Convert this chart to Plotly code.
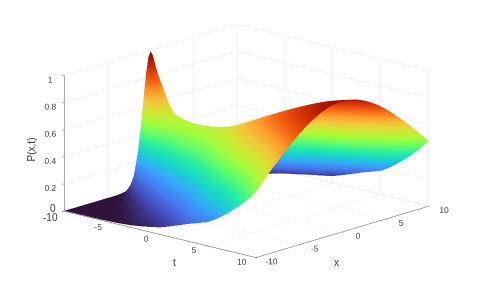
import numpy as np
import plotly.graph_objects as go

t_values = [-10, -9.5, -9, -8.5, -8, -7, -6, -5, -4, -3, -2, -1, 0, 1, 2, 3, 4, 5, 6, 7, 8, 9, 10]
x_half = [0, 0.25, 0.5, 0.75, 1, 1.25, 1.5, 2, 2.5, 3, 4, 5, 6, 7, 8, 9, 10]
# P(x,t), for x >= 0 (the surface is symmetric in x)
p_rows = [
    [.99, .954, .855, .711, .550, .395, .264, .094, .025, .005, 0, 0, 0, 0, 0, 0, 0],
    [.85, .832, .782, .705, .609, .505, .401, .224, .106, .042, .004, 0, 0, 0, 0, 0, 0],
    [.735, .725, .695, .649, .589, .519, .446, .302, .183, .099, .021, .003, 0, 0, 0, 0, 0],
    [.63, .623, .604, .574, .533, .486, .433, .323, .223, .141, .044, .010, .002, 0, 0, 0, 0],
    [.57, .566, .552, .531, .503, .469, .430, .346, .261, .185, .077, .025, .006, .001, 0, 0, 0],
    [.54, .537, .528, .513, .493, .469, .440, .375, .306, .238, .126, .056, .021, .006, .002, 0, 0],
    [.525, .523, .516, .506, .491, .473, .452, .402, .346, .288, .181, .099, .048, .020, .007, .002, .001],
    [.525, .523, .518, .510, .498, .484, .466, .425, .378, .327, .226, .141, .079, .040, .018, .007, .003],
    [.53, .529, .525, .518, .508, .497, .483, .448, .409, .364, .272, .187, .118, .069, .037, .018, .006],
    [.545, .544, .540, .534, .526, .515, .503, .472, .436, .395, .308, .223, .151, .095, .055, .030, .012],
    [.565, .564, .561, .555, .548, .538, .527, .499, .465, .427, .343, .259, .183, .122, .076, .045, .022],
    [.598, .597, .594, .589, .582, .573, .562, .535, .503, .466, .383, .299, .220, .154, .101, .060, .034],
    [.636, .635, .632, .627, .620, .612, .601, .575, .544, .508, .426, .340, .259, .187, .128, .080, .048],
    [.675, .674, .671, .667, .660, .652, .643, .619, .589, .555, .477, .392, .308, .233, .168, .112, .072],
    [.715, .714, .712, .707, .701, .694, .685, .662, .634, .601, .526, .442, .358, .279, .209, .146, .098],
    [.752, .751, .749, .745, .739, .732, .723, .701, .674, .642, .568, .485, .400, .318, .245, .177, .125],
    [.79, .789, .787, .783, .777, .770, .762, .741, .714, .683, .610, .528, .442, .359, .281, .208, .148],
    [.825, .824, .822, .818, .813, .806, .798, .778, .753, .723, .652, .571, .486, .401, .322, .240, .172],
    [.86, .859, .857, .854, .849, .842, .834, .815, .791, .763, .695, .616, .532, .448, .366, .285, .215],
    [.892, .891, .889, .886, .882, .876, .869, .851, .829, .803, .741, .667, .587, .505, .424, .342, .270],
    [.92, .919, .918, .915, .911, .906, .900, .884, .864, .841, .784, .717, .642, .564, .485, .405, .330],
    [.942, .941, .940, .938, .934, .930, .924, .911, .894, .874, .824, .765, .698, .626, .553, .472, .397],
    [.96, .960, .958, .956, .953, .950, .946, .934, .920, .903, .862, .811, .753, .689, .623, .553, .480],
]

tick_vals = [-10, -5, 0, 5, 10]
t_labels = ["", "-5", "0", "5", "10"]
x_labels = ["-10", "-5", "0", "5", "10"]
z_ticks = [0, 0.2, 0.4, 0.6, 0.8, 1]
z_labels = ["", "0.2", "0.4", "0.6", "0.8", "1"]

half = np.array(p_rows)
x_full = [-v for v in x_half[:0:-1]] + x_half
P = np.hstack([half[:, :0:-1], half])  # rows follow t, columns follow x

fig = go.Figure(go.Surface(
    x=t_values, y=x_full, z=P.T,
    colorscale="Turbo", cmin=0, cmax=1, showscale=False, hoverinfo="skip",
    lighting=dict(ambient=1, diffuse=0, specular=0, fresnel=0, roughness=1),
))

tickfont = dict(family="Liberation Sans", size=10, color="#404040")
notefont = dict(family="Liberation Sans", size=10, color="#404040")
def axis(vals, text, rng=(-10, 10)):
    return dict(title=dict(text=""), range=list(rng), tickvals=vals,
                ticktext=text, tickfont=tickfont, tickangle=0,
                showbackground=False, showspikes=False, gridcolor="#e6e6e6", gridwidth=1,
                showline=True, linecolor="#555555", linewidth=1, zeroline=False,
                ticks="outside", ticklen=3, tickcolor="#555555")

def note(text, t, x, z, dx, dy, angle=0):
    return dict(text=text, x=t, y=x, z=z, xshift=dx, yshift=dy, showarrow=False,
                font=notefont, textangle=angle, xanchor="center", yanchor="middle")

fig.update_layout(
    width=487, height=285, margin=dict(l=0, r=0, t=0, b=0), paper_bgcolor="white",
    scene=dict(
        domain=dict(x=[0, 1], y=[0, 1]),
        xaxis=axis(tick_vals, t_labels),
        yaxis=axis(tick_vals, x_labels),
        zaxis=axis(z_ticks, z_labels, (-0.004, 1)),
        aspectmode="manual", aspectratio=dict(x=1.81, y=1.81, z=0.99),
        camera=dict(projection=dict(type="orthographic"),
                    eye=dict(x=1.328, y=-1.42, z=0.47),
                    center=dict(x=0.027, y=0.023, z=-0.07), up=dict(x=0, y=0, z=1)),
        annotations=[
            note("t", 0, -10, 0, 14, -29),
            note("x", 10, 0, 0, -6, -31),
            note("P(x,t)", -10, -10, 0.5, -33, -6, -90),
            note("0", -10, -10, 0, -11, 2),
            note("-10", -10, -10, 0, -14, -7),
        ],
    ),
)
fig.write_html("out.html")
